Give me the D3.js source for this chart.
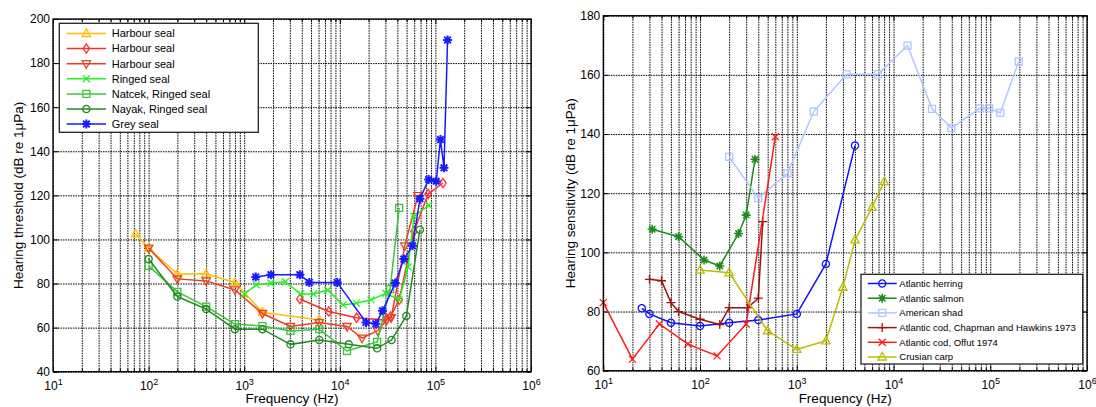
<!DOCTYPE html>
<html><head><meta charset="utf-8">
<script src="https://cdn.jsdelivr.net/npm/d3@7"></script>
<style>
html,body{margin:0;padding:0;background:#fff;}
svg{display:block;font-family:"Liberation Sans",Arial,Helvetica,sans-serif;}
</style></head>
<body>
<svg id="chart" width="1096" height="407"></svg>
<script>
// ---------- Left chart data (frequency Hz, dB re 1µPa) ----------
const leftNames = ["Harbour seal","Harbour seal","Harbour seal","Ringed seal","Natcek, Ringed seal","Nayak, Ringed seal","Grey seal"];
const harbourSealA = [[73,102.5],[100,96],[200,84.3],[400,84.4],[800,80.5],[1550,67],[6100,63.5]];
const harbourSealB = [[3820,73],[7650,67.3],[15000,64.5],[30500,63.4],[34000,65],[41800,72.6],[59700,103.6],[84000,120.6],[120000,125.6]];
const harbourSealC = [[100,96.1],[200,82.1],[400,81.2],[800,77.1],[1550,66.4],[3050,60.5],[6100,62.3],[11900,60.5],[17100,55.2],[24900,58.6],[31000,63.5],[34500,64.5],[47800,97.1],[65700,119.9]];
const ringedSeal = [[1000,75.2],[1340,79.4],[1900,80.2],[2700,80.8],[3880,75.3],[5300,75.3],[7500,77.1],[10800,70.3],[14900,71.1],[21200,72.6],[30300,75.6],[41800,72.6],[51800,87.5],[59700,110.5],[85500,115.5]];
const natcekRinged = [[100,88],[200,76.2],[400,69.5],[800,61.6],[1550,60.7],[3050,58.5],[6100,59.3],[11900,49.4],[24600,53.5],[33600,77.5],[41800,114.3]];
const nayakRinged = [[100,91.1],[200,74.1],[400,68.4],[800,59.3],[1550,59.3],[3050,52.4],[6100,54.4],[12400,52.4],[24600,50.6],[34800,54.4],[49700,65.3],[68800,104.4]];
const greySeal = [[1320,83],[1900,84],[3820,84],[4800,80.5],[9400,80.5],[18800,62.3],[23800,61.7],[28000,67.6],[38000,80.2],[46800,91.1],[57600,97.1],[69000,118.5],[85000,127.2],[102000,126.4],[113000,145.3],[123000,132.5],[134000,190.5]];

// ---------- Right chart data ----------
const rightNames = ["Atlantic herring","Atlantic salmon","American shad","Atlantic cod, Chapman and Hawkins 1973","Atlantic cod, Offut 1974","Crusian carp"];
const atlanticHerring = [[25,81.1],[30,79.2],[50,76.2],[100,75.1],[200,76.2],[400,77.1],[1000,79.2],[2000,96.1],[4000,136.1]];
const atlanticSalmon = [[32,107.8],[60,105.3],[110,97.4],[160,95.4],[250,106.4],[300,112.6],[370,131.5]];
const americanShad = [[200,132.3],[400,118.3],[800,126.7],[1500,147.6],[3270,160.2],[6900,160.2],[13950,169.9],[25000,148.5],[39700,142],[77700,148.7],[97000,148.7],[127000,147.2],[197000,164.5]];
const codChapman = [[30,90.9],[40,90.4],[50,83],[60,80],[100,77.4],[160,75.6],[200,81.3],[310,81.3],[400,84.5],[445,110.4]];
const codOffut = [[10,83],[20,63.9],[38,75.8],[75,69],[150,65],[300,75.8],[600,139.1]];
const crusianCarp = [[100,94],[200,93.1],[500,73.5],[1000,67.2],[2000,70.1],[3000,88.2],[4000,104.2],[6000,115.2],[8000,123.9]];

// ---------- Ticks ----------
const xMajorTicks = [1e1,1e2,1e3,1e4,1e5,1e6];
const xExponents = ["1","2","3","4","5","6"];
const leftYTicks = [40,60,80,100,120,140,160,180,200];
const rightYTicks = [60,80,100,120,140,160,180];

// ---------- Styles ----------
const leftSeries = [
  {data: harbourSealA, color:"#ffbf00", marker:"triangle"},
  {data: harbourSealB, color:"#ff2d2d", marker:"diamond"},
  {data: harbourSealC, color:"#ea4020", marker:"triangleDown"},
  {data: ringedSeal,   color:"#22f022", marker:"x"},
  {data: natcekRinged, color:"#3cc43c", marker:"square"},
  {data: nayakRinged,  color:"#228b22", marker:"circle"},
  {data: greySeal,     color:"#1a1aff", marker:"star"}
];
const rightSeries = [
  {data: atlanticHerring, color:"#1010ff", marker:"circle"},
  {data: atlanticSalmon,  color:"#1a8c1a", marker:"asterisk"},
  {data: americanShad,    color:"#b0c6ff", marker:"square"},
  {data: codChapman,      color:"#9a1414", marker:"plus"},
  {data: codOffut,        color:"#ff1a1a", marker:"x"},
  {data: crusianCarp,     color:"#bcbc00", marker:"triangle"}
];

const svg = d3.select("#chart");

function minorTicks(){
  const t=[];
  for(let e=1;e<6;e++) for(let m=1;m<10;m++) t.push(m*Math.pow(10,e));
  t.push(1e6); return t;
}

function drawMarker(g, type, x, y, color){
  const s = g.append("g").attr("transform",`translate(${x},${y})`)
    .attr("fill","none").attr("stroke",color).attr("stroke-width",1.3);
  if(type==="triangle") s.append("path").attr("d","M0,-4.6L4.2,3L-4.2,3Z");
  else if(type==="triangleDown") s.append("path").attr("d","M0,4.6L4.2,-3L-4.2,-3Z");
  else if(type==="diamond") s.append("path").attr("d","M0,-4.6L3.2,0L0,4.6L-3.2,0Z");
  else if(type==="square") s.append("rect").attr("x",-3.5).attr("y",-3.5).attr("width",7).attr("height",7);
  else if(type==="circle") s.append("circle").attr("r",3.6);
  else if(type==="x") s.append("path").attr("d","M-3.5,-3.5L3.5,3.5M-3.5,3.5L3.5,-3.5");
  else if(type==="plus") s.append("path").attr("d","M-4.5,0L4.5,0M0,-4.5L0,4.5");
  else if(type==="star"){
    s.attr("stroke-width",2);
    s.append("path").attr("d","M-4.5,0L4.5,0M0,-4.5L0,4.5M-3.3,-3.3L3.3,3.3M-3.3,3.3L3.3,-3.3");
  } else if(type==="asterisk"){
    s.attr("stroke-width",1.6);
    s.append("path").attr("d","M-4.5,0L4.5,0M0,-4.5L0,4.5M-3.2,-3.2L3.2,3.2M-3.2,3.2L3.2,-3.2");
  }
}

function drawPanel(cfg){
  const {x0,x1,y0,y1,yDomain,yTicks,series,names,yLabel,legend} = cfg;
  const x = d3.scaleLog().domain([10,1e6]).range([x0,x1]);
  const y = d3.scaleLinear().domain(yDomain).range([y1,y0]);
  const g = svg.append("g");
  const w = x1-x0, h = y1-y0;

  // grid
  const gridX = g.append("g").attr("transform",`translate(0,${y1})`)
    .call(d3.axisBottom(x).tickValues(minorTicks()).tickSize(-h).tickFormat(""));
  const gridY = g.append("g").attr("transform",`translate(${x0},0)`)
    .call(d3.axisLeft(y).tickValues(yTicks).tickSize(-w).tickFormat(""));
  [gridX,gridY].forEach(a=>{
    a.select(".domain").remove();
    a.selectAll("line").attr("stroke","#000").attr("stroke-width",1).attr("stroke-dasharray","1.5,1");
  });

  // tick marks (inward) on all four sides
  const minorOnly = minorTicks().filter(v=>!xMajorTicks.includes(v));
  const tickGroups = [];
  tickGroups.push(g.append("g").attr("transform",`translate(0,${y1})`).call(d3.axisBottom(x).tickValues(minorOnly).tickSizeInner(-3).tickSizeOuter(0).tickFormat("")));
  tickGroups.push(g.append("g").attr("transform",`translate(0,${y0})`).call(d3.axisTop(x).tickValues(minorOnly).tickSizeInner(-3).tickSizeOuter(0).tickFormat("")));
  tickGroups.push(g.append("g").attr("transform",`translate(0,${y0})`).call(d3.axisTop(x).tickValues(xMajorTicks).tickSizeInner(-5).tickSizeOuter(0).tickFormat("")));
  tickGroups.push(g.append("g").attr("transform",`translate(${x1},0)`).call(d3.axisRight(y).tickValues(yTicks).tickSizeInner(-5).tickSizeOuter(0).tickFormat("")));
  const bottomAxis = g.append("g").attr("transform",`translate(0,${y1})`)
    .call(d3.axisBottom(x).tickValues(xMajorTicks).tickSizeInner(-5).tickSizeOuter(0).tickPadding(10).tickFormat(()=>"10"));
  const leftAxis = g.append("g").attr("transform",`translate(${x0},0)`)
    .call(d3.axisLeft(y).tickValues(yTicks).tickSizeInner(-5).tickSizeOuter(0).tickPadding(3).tickFormat(d3.format("d")));
  tickGroups.push(bottomAxis, leftAxis);
  tickGroups.forEach(a=>{ a.select(".domain").remove(); a.selectAll("line").attr("stroke","#000"); });
  bottomAxis.selectAll("text").attr("font-size",12).attr("fill","#000").attr("font-family","Liberation Sans, Arial, sans-serif")
    .each(function(d,i){ d3.select(this).append("tspan").attr("font-size",9).attr("dy","-0.55em").text(xExponents[i]); });
  leftAxis.selectAll("text").attr("font-size",12).attr("fill","#000").attr("font-family","Liberation Sans, Arial, sans-serif");

  // series
  const line = d3.line().x(d=>x(d[0])).y(d=>y(d[1]));
  series.forEach(s=>{
    const sg = g.append("g");
    sg.append("path").datum(s.data).attr("d",line).attr("fill","none").attr("stroke",s.color).attr("stroke-width",1.5);
    s.data.forEach(d=>drawMarker(sg,s.marker,x(d[0]),y(d[1]),s.color));
  });

  // frame
  g.append("rect").attr("x",x0).attr("y",y0).attr("width",w).attr("height",h)
    .attr("fill","none").attr("stroke","#000").attr("stroke-width",1.3);

  // axis labels
  g.append("text").attr("x",(x0+x1)/2).attr("y",403).attr("text-anchor","middle")
    .attr("font-size",13.5).text("Frequency (Hz)");
  g.append("text").attr("transform",`translate(${cfg.yLabelX},${(y0+y1)/2}) rotate(-90)`)
    .attr("text-anchor","middle").attr("font-size",13.5).text(yLabel);

  // legend
  const L = legend;
  const lg = g.append("g");
  lg.append("rect").attr("x",L.x).attr("y",L.y).attr("width",L.w).attr("height",L.h)
    .attr("fill","#fff").attr("stroke","#222").attr("stroke-width",1.3);
  series.forEach((s,i)=>{
    const ry = L.row0 + i*L.dy;
    lg.append("line").attr("x1",L.lx0).attr("x2",L.lx1).attr("y1",ry).attr("y2",ry)
      .attr("stroke",s.color).attr("stroke-width",1.5);
    drawMarker(lg,s.marker,(L.lx0+L.lx1)/2,ry,s.color);
    lg.append("text").attr("x",L.tx).attr("y",ry).attr("dy","0.35em").attr("font-size",L.fs)
      .attr("fill","#000").text(names[i]);
  });
}

drawPanel({x0:53,x1:531,y0:19,y1:371.7,yDomain:[40,200],yTicks:leftYTicks,series:leftSeries,names:leftNames,
  yLabel:"Hearing threshold (dB re 1μPa)", yLabelX:23,
  legend:{x:59.3,y:23.3,w:199,h:109,row0:33.5,dy:15.1,lx0:66.7,lx1:106,tx:111.7,fs:11}});
drawPanel({x0:603.3,x1:1087,y0:15.7,y1:370.7,yDomain:[60,180],yTicks:rightYTicks,series:rightSeries,names:rightNames,
  yLabel:"Hearing sensitivity (dB re 1μPa)", yLabelX:575,
  legend:{x:861,y:274.3,w:221.7,h:89.7,row0:283.5,dy:14.7,lx0:867.7,lx1:896.7,tx:899.3,fs:9.5}});
</script>
</body></html>
